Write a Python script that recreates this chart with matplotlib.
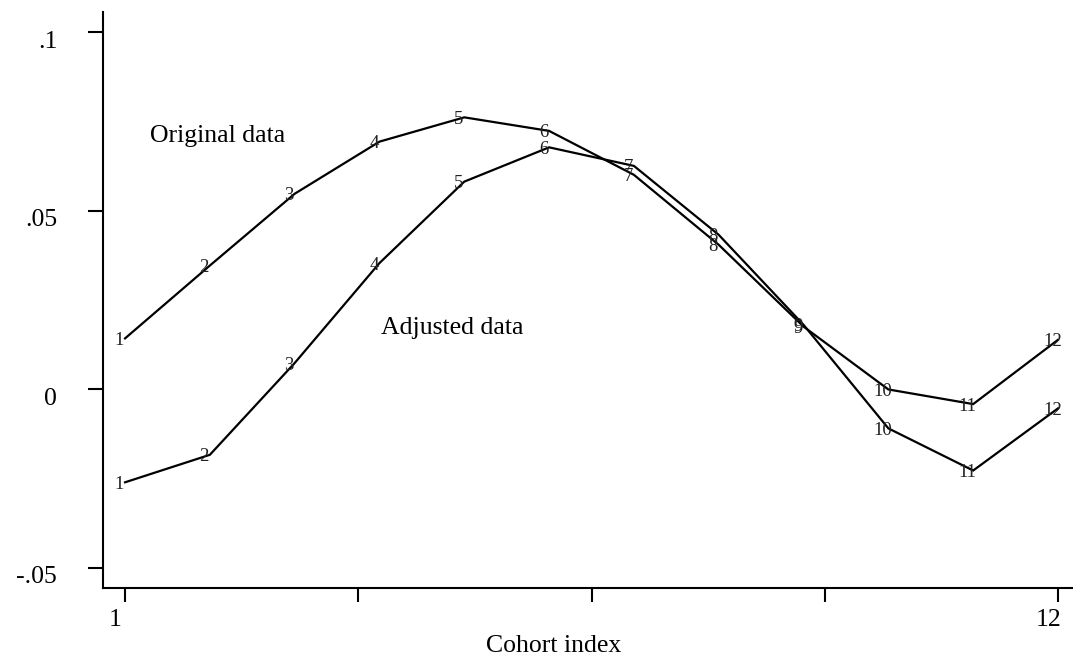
import matplotlib.pyplot as plt
import matplotlib.transforms as mtransforms

# cohort index and the two series
cohort = [1, 2, 3, 4, 5, 6, 7, 8, 9, 10, 11, 12]
original = [0.0143, 0.0347, 0.0548, 0.0694, 0.0762, 0.0724,
            0.0601, 0.0405, 0.0176, 0.0000, -0.0041, 0.0139]
adjusted = [-0.0260, -0.0183, 0.0074, 0.0354, 0.0582, 0.0678,
            0.0626, 0.0433, 0.0181, -0.0109, -0.0227, -0.0053]

ytick_vals = [-0.05, 0.0, 0.05, 0.1]
ytick_text = ["-.05", "0", ".05", ".1"]
xtick_vals = [1, 3.75, 6.5, 9.25, 12]
xtick_text = ["1", "", "", "", "12"]

plt.rcParams['font.family'] = ['Liberation Serif', 'DejaVu Serif']


def draw_series(ax, x, y):
    ax.plot(x, y, color="black", lw=1.6, solid_joinstyle="miter")
    for xi, yi in zip(x, y):
        ax.annotate(str(xi), (xi, yi), xytext=(-4, -1.5),
                    textcoords="offset points", ha="center", va="center",
                    fontsize=13.5, color="#222222")


fig = plt.figure(figsize=(10.73, 6.57), dpi=100)
ax = fig.add_axes([103 / 1073, 1 - 588 / 657, 1 - 103 / 1073, (588 - 12) / 657])

draw_series(ax, cohort, original)
draw_series(ax, cohort, adjusted)

ax.text(1.295, 0.0711, "Original data", fontsize=18.5, ha="left", va="center")
ax.text(4.02, 0.0171, "Adjusted data", fontsize=18.5, ha="left", va="center")

ax.set_xlim(0.74, 12.177)
ax.set_ylim(-0.0556, 0.1057)

ax.set_yticks(ytick_vals)
ax.set_yticklabels(ytick_text)
ax.set_xticks(xtick_vals)
ax.set_xticklabels(xtick_text)

for side in ["top", "right"]:
    ax.spines[side].set_visible(False)
for side in ["left", "bottom"]:
    ax.spines[side].set_linewidth(1.5)

ax.tick_params(axis="y", length=11, width=1.5, pad=22, labelsize=18.5)
ax.tick_params(axis="x", length=10, width=1.5, pad=5, labelsize=18.5)

# the reference sets its tick labels a little low / left of the ticks
ydown = mtransforms.ScaledTranslation(0, -5 / 72, fig.dpi_scale_trans)
for lab in ax.get_yticklabels():
    lab.set_horizontalalignment("right")
    lab.set_transform(lab.get_transform() + ydown)
xleft = mtransforms.ScaledTranslation(-7 / 72, 0, fig.dpi_scale_trans)
for lab in ax.get_xticklabels():
    lab.set_transform(lab.get_transform() + xleft)

fig.text(554 / 1073, 1 - 646 / 657, "Cohort index", fontsize=18.5,
         ha="center", va="center")

fig.savefig("out.png", dpi=100)
